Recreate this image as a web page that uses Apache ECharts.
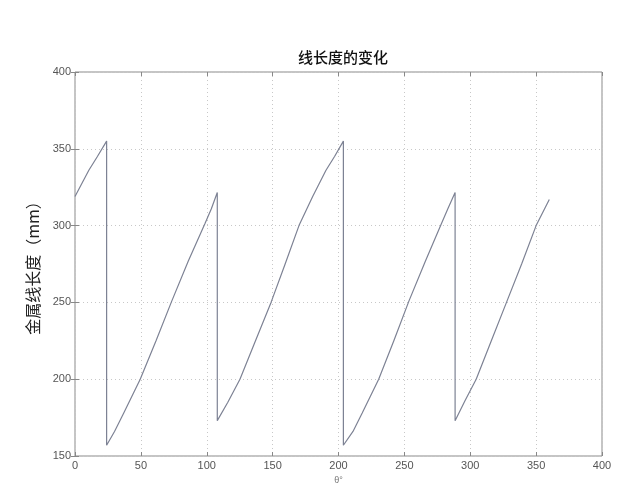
<!DOCTYPE html>
<html>
<head>
<meta charset="utf-8">
<script src="https://cdn.jsdelivr.net/npm/echarts@6/dist/echarts.min.js"></script>
<style>html,body{margin:0;padding:0;background:#fff;}#c{width:625px;height:490px;}</style>
</head>
<body>
<div id="c"></div>
<script>
// angle θ (degrees) and wire length (mm)
const angleDeg = [0, 10.5, 17, 24,
  24, 30, 37, 49.5, 61.5, 73.5, 86, 98.5, 103.5, 108,
  108, 116, 125.2, 137, 148.8, 159.5, 170, 180.4, 190.5, 197, 203.7,
  203.7, 211, 218, 230.5, 242, 253.5, 266, 278, 283, 288.5,
  288.5, 296, 304.5, 316, 327.5, 339, 350, 360];
const wireLength = [319, 336, 345, 355,
  157, 166, 178, 200, 225, 251, 277, 301, 311, 321.6,
  173, 185, 200, 225, 250, 275, 300, 319, 336, 345, 355,
  157, 166, 178, 200, 225, 251, 277, 301, 311, 321.6,
  173, 186, 200, 225, 250, 275, 300, 317];
const xTicks = [0, 50, 100, 150, 200, 250, 300, 350, 400];
const yTicks = [150, 200, 250, 300, 350, 400];
const titleText = '线长度的变化';
const yName = '金属线长度（mm）';
const xName = 'θ°';

const chart = echarts.init(document.getElementById('c'), null, {renderer: 'canvas'});
const labelStyle = {color: '#555', fontSize: 11, fontFamily: 'Liberation Sans, Arial, sans-serif'};
const gridLine = {show: true, lineStyle: {color: '#c8c8c8', type: [1, 3], width: 1}};
chart.setOption({
  backgroundColor: '#fff',
  animation: false,
  title: {text: titleText, left: 338, top: 45, textAlign: 'center',
    textStyle: {fontSize: 15, fontWeight: 500, color: '#111', fontFamily: 'Noto Sans CJK SC'}},
  grid: {left: 75, right: 23, top: 72, bottom: 33, show: true, borderColor: '#8a8a8a', borderWidth: 1, backgroundColor: 'transparent'},
  xAxis: [{
    type: 'value', min: xTicks[0], max: xTicks[xTicks.length - 1], interval: 50,
    axisLine: {show: false}, axisTick: {show: true, inside: true, length: 4, lineStyle: {color: '#888'}},
    axisLabel: Object.assign({margin: 4}, labelStyle), splitLine: gridLine,
    name: xName, nameLocation: 'middle', nameGap: 20,
    nameTextStyle: {color: '#777', fontSize: 9}
  }, {
    type: 'value', position: 'top', min: xTicks[0], max: xTicks[xTicks.length - 1], interval: 50,
    axisLine: {show: false}, axisTick: {show: true, inside: true, length: 4, lineStyle: {color: '#888'}},
    axisLabel: {show: false}, splitLine: {show: false}
  }],
  yAxis: [{
    type: 'value', min: yTicks[0], max: yTicks[yTicks.length - 1], interval: 50,
    axisLine: {show: false}, axisTick: {show: true, inside: true, length: 4, lineStyle: {color: '#888'}},
    axisLabel: Object.assign({margin: 4}, labelStyle), splitLine: gridLine,
    name: yName, nameLocation: 'middle', nameGap: 34, nameRotate: 90,
    nameTextStyle: {color: '#222', fontSize: 16, fontFamily: 'Noto Sans CJK SC'}
  }, {
    type: 'value', position: 'right', min: yTicks[0], max: yTicks[yTicks.length - 1], interval: 50,
    axisLine: {show: false}, axisTick: {show: true, inside: true, length: 4, lineStyle: {color: '#888'}},
    axisLabel: {show: false}, splitLine: {show: false}
  }],
  series: [{
    type: 'line', xAxisIndex: 0, yAxisIndex: 0,
    data: angleDeg.map((a, i) => [a, wireLength[i]]),
    showSymbol: false, symbol: 'none',
    lineStyle: {color: '#7d8294', width: 1.2}
  }]
});
</script>
</body>
</html>
